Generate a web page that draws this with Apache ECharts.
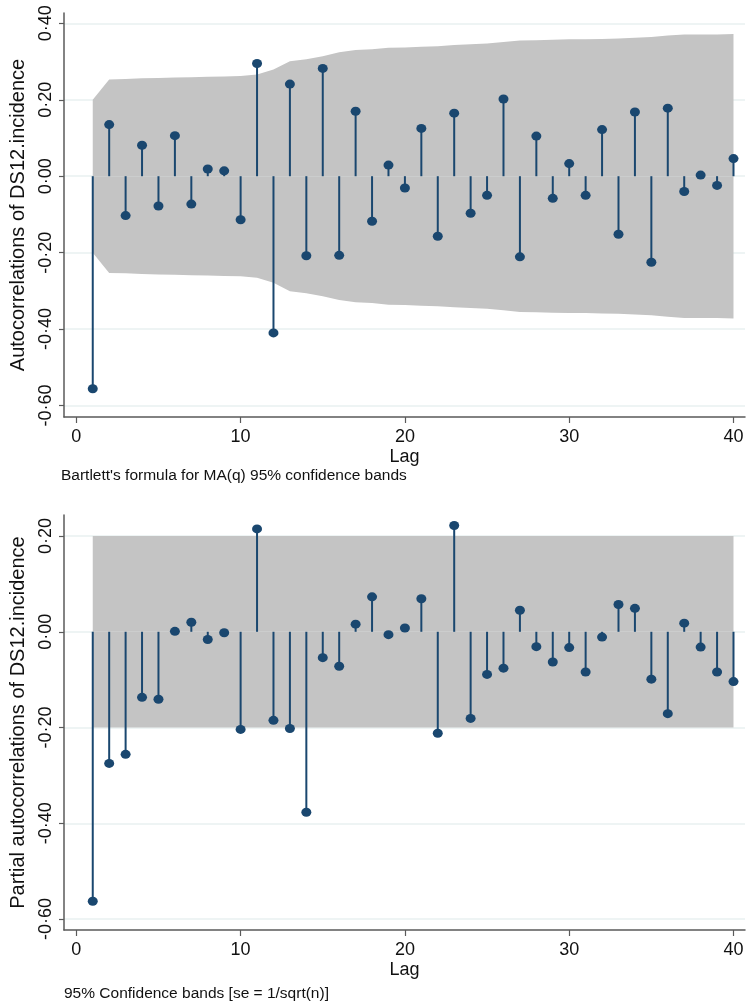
<!DOCTYPE html>
<html>
<head>
<meta charset="utf-8">
<script src="https://cdn.jsdelivr.net/npm/echarts@6/dist/echarts.min.js"></script>
<style>
html,body{margin:0;padding:0;background:#fff;}
#c{width:750px;height:1008px;}
</style>
</head>
<body>
<div id="c"></div>
<script>
// ---- data ----
const lags = [1,2,3,4,5,6,7,8,9,10,11,12,13,14,15,16,17,18,19,20,21,22,23,24,25,26,27,28,29,30,31,32,33,34,35,36,37,38,39,40];
const acf = [-0.556,0.135,-0.103,0.081,-0.078,0.106,-0.073,0.019,0.014,-0.114,
             0.295,-0.410,0.241,-0.208,0.282,-0.207,0.170,-0.118,0.029,-0.031,
             0.125,-0.157,0.165,-0.097,-0.050,0.202,-0.211,0.105,-0.058,0.033,
             -0.050,0.122,-0.152,0.168,-0.225,0.178,-0.040,0.003,-0.024,0.046];
const acfBand = [0.200,0.253,0.254,0.256,0.257,0.258,0.259,0.260,0.261,0.262,
                 0.266,0.279,0.301,0.306,0.314,0.324,0.330,0.332,0.336,0.337,
                 0.339,0.340,0.343,0.345,0.347,0.351,0.355,0.356,0.357,0.358,
                 0.358,0.359,0.360,0.362,0.364,0.368,0.371,0.371,0.371,0.372];
const pacf = [-0.563,-0.275,-0.256,-0.137,-0.141,0.001,0.020,-0.016,-0.002,-0.204,
              0.215,-0.185,-0.202,-0.377,-0.054,-0.072,0.016,0.073,-0.006,0.008,
              0.069,-0.212,0.222,-0.181,-0.089,-0.076,0.045,-0.031,-0.063,-0.033,
              -0.084,-0.011,0.057,0.049,-0.099,-0.171,0.018,-0.032,-0.084,-0.104];
const pacfBandLags = [1, 40];
const pacfBand = [0.200, 0.200];
const xTicks = [0, 10, 20, 30, 40];
const acfYTicks = [-0.6, -0.4, -0.2, 0, 0.2, 0.4];
const pacfYTicks = [-0.6, -0.4, -0.2, 0, 0.2];
const acfTitle = 'Autocorrelations of DS12.incidence';
const pacfTitle = 'Partial autocorrelations of DS12.incidence';
const xTitle = 'Lag';
const acfNote = "Bartlett's formula for MA(q) 95% confidence bands";
const pacfNote = '95% Confidence bands [se = 1/sqrt(n)]';

// ---- style ----
const FONT = '"Liberation Sans", Arial, sans-serif';
const NAVY = '#1a476f';
const BAND = '#c4c4c4';
const GRIDC = '#e9f1f1';
const AXISC = '#5a5a5a';

const fmt = v => {
  const s = Math.abs(v) < 1e-9 ? '0.00' : v.toFixed(2);
  return s.replace('.', '\u00B7');
};

function xAxisDef(gridIndex) {
  return {
    type: 'value', gridIndex, min: -0.75, max: 40.7,
    name: xTitle, nameLocation: 'middle', nameGap: 31,
    nameTextStyle: {fontFamily: FONT, fontSize: 18, color: '#111'},
    axisLine: {show: true, onZero: false, lineStyle: {color: AXISC, width: 1.5}},
    axisTick: {show: true, customValues: xTicks, length: 6, lineStyle: {color: AXISC, width: 1.2}},
    axisLabel: {customValues: xTicks, fontFamily: FONT, fontSize: 18, color: '#111', margin: 11},
    splitLine: {show: false}
  };
}
function yAxisDef(gridIndex, min, max, ticks, title) {
  return {
    type: 'value', gridIndex, min, max,
    name: title, nameLocation: 'middle', nameRotate: 90, nameGap: 36,
    nameTextStyle: {fontFamily: FONT, fontSize: 20, color: '#111'},
    axisLine: {show: true, onZero: false, lineStyle: {color: AXISC, width: 1.5}},
    axisTick: {show: true, customValues: ticks, length: 5, lineStyle: {color: AXISC, width: 1.2}},
    axisLabel: {customValues: ticks, rotate: 90, formatter: fmt, fontFamily: FONT, fontSize: 18, color: '#111', margin: 9},
    splitLine: {show: false}
  };
}
function gridLines(xi, ticks) {
  return {
    type: 'line', xAxisIndex: xi, yAxisIndex: xi, data: [], z: 0, silent: true,
    markLine: {
      silent: true, z: 0, symbol: ['none', 'none'], label: {show: false},
      lineStyle: {color: GRIDC, width: 1.5, type: 'solid'},
      emphasis: {disabled: true},
      data: ticks.map(t => ({yAxis: t}))
    }
  };
}
function bandSeries(xi, xs, half) {
  const common = {type: 'line', xAxisIndex: xi, yAxisIndex: xi, symbol: 'none', silent: true, z: 1,
                  lineStyle: {width: 0, opacity: 0}, areaStyle: {color: BAND, opacity: 1, origin: 0}};
  return [
    Object.assign({}, common, {data: xs.map((x, i) => [x, half[i]])}),
    Object.assign({}, common, {data: xs.map((x, i) => [x, -half[i]])})
  ];
}
function stemSeries(xi, vals) {
  return [
    {type: 'bar', xAxisIndex: xi, yAxisIndex: xi, barWidth: 2,
     data: lags.map((l, i) => [l, vals[i]]), itemStyle: {color: NAVY}, z: 3, silent: true},
    {type: 'scatter', xAxisIndex: xi, yAxisIndex: xi, symbol: 'circle', symbolSize: [10, 9],
     data: lags.map((l, i) => [l, vals[i]]), itemStyle: {color: NAVY, opacity: 1}, z: 4, silent: true}
  ];
}

const chart = echarts.init(document.getElementById('c'), null, {renderer: 'canvas'});
chart.setOption({
  animation: false,
  backgroundColor: '#ffffff',
  grid: [
    {left: 63, right: 5, top: 13, height: 404},
    {left: 62, right: 5, top: 515, height: 415}
  ],
  xAxis: [xAxisDef(0), xAxisDef(1)],
  yAxis: [
    yAxisDef(0, -0.63, 0.427, acfYTicks, acfTitle),
    yAxisDef(1, -0.623, 0.244, pacfYTicks, pacfTitle)
  ],
  graphic: [
    {type: 'text', left: 61, top: 468, style: {text: acfNote, font: '15.5px ' + FONT, fill: '#111'}},
    {type: 'text', left: 64, top: 986, style: {text: pacfNote, font: '15.5px ' + FONT, fill: '#111'}}
  ],
  series: [
    gridLines(0, acfYTicks),
    gridLines(1, pacfYTicks),
    ...bandSeries(0, lags, acfBand),
    ...bandSeries(1, pacfBandLags, pacfBand),
    ...stemSeries(0, acf),
    ...stemSeries(1, pacf)
  ]
});
</script>
</body>
</html>
